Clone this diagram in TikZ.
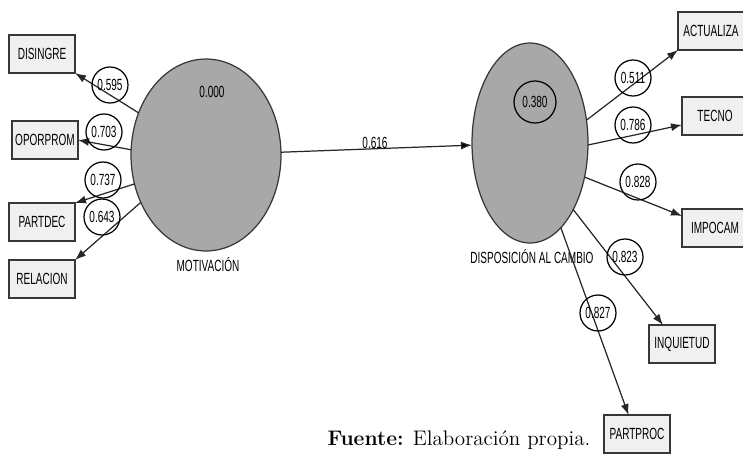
\documentclass[tikz,border=0pt]{standalone}
\usepackage{fontspec}
\usetikzlibrary{shapes.geometric,arrows.meta}
\newfontfamily\diagfont[FakeStretch=0.62]{Liberation Sans}
\definecolor{latentgray}{RGB}{168,168,168}
\definecolor{boxgray}{RGB}{240,240,240}
\definecolor{edgegray}{RGB}{55,55,55}

\begin{document}
\begin{tikzpicture}[x=0.02cm, y=-0.02cm, line width=0.7pt,
        font=\diagfont\fontsize{9.2}{11}\selectfont,
        latent/.style = {draw=edgegray, fill=latentgray, ellipse, inner sep=0pt, outer sep=0pt},
        ind/.style = {draw=edgegray, fill=boxgray, minimum width=1.32cm, minimum height=0.76cm, inner sep=0pt, outer sep=0pt},
        load/.style = {draw=black, circle, minimum size=0.72cm, inner sep=0pt},
        arr/.style = {-{Latex[length=2.2mm,width=1.6mm]}, draw=black!85}]
    \useasboundingbox (0,0) rectangle (743,453);

        % latent variables
        \node[latent, minimum width=3cm, minimum height=3.84cm] (mot) at (206,155) {};
        \node[latent, minimum width=2.32cm, minimum height=4cm] (disp) at (530,143) {};
        \node (r2mot) at (212,92) {0.000};
        \node[load, minimum size=0.84cm] (r2disp) at (535,102) {0.380};
        \node (motlab) at (208,265) {MOTIVACIÓN};
        \node (displab) at (532,257) {DISPOSICIÓN AL CAMBIO};

        % indicators
        \node[ind] (disingre) at (42,54) {DISINGRE};
        \node[ind] (oporprom) at (45,140) {OPORPROM};
        \node[ind] (partdec) at (42,222) {PARTDEC};
        \node[ind] (relacion) at (42,279) {RELACION};
        \node[ind] (actualiza) at (711,31) {ACTUALIZA};
        \node[ind] (tecno) at (715,116) {TECNO};
        \node[ind] (impocam) at (715,228) {IMPOCAM};
        \node[ind] (inquietud) at (682,344) {INQUIETUD};
        \node[ind] (partproc) at (637,434) {PARTPROC};

        % paths
        \path[arr] (mot) edge (disp);
        \node (path) at (375,143) {0.616};

        \draw[arr] (mot.148) -- (disingre.south east);
        \draw[arr] (mot.176) -- (oporprom.east);
        \draw[arr] (mot.202) -- (partdec.north east);
        \draw[arr] (mot.216) -- (relacion.north east);
        \draw[arr] (disp.22) -- (actualiza.south west);
        \draw[arr] (disp.358) -- (tecno.195);
        \draw[arr] (disp.328) -- (impocam.160);
        \draw[arr] (disp.303) -- (inquietud.135);
        \draw[arr] (disp.290) -- (partproc.114);

        % loadings
        \node[load] (l1) at (110,85) {0.595};
        \node[load] (l2) at (104,132) {0.703};
        \node[load] (l3) at (103,180) {0.737};
        \node[load] (l4) at (102,217) {0.643};
        \node[load] (l5) at (633,78) {0.511};
        \node[load] (l6) at (633,125) {0.786};
        \node[load] (l7) at (638,182) {0.828};
        \node[load] (l8) at (625,257) {0.823};
        \node[load] (l9) at (598,313) {0.827};

        \node[font=\rmfamily\fontsize{12}{14}\selectfont] (fuente) at (459,440) {\textbf{Fuente:} Elaboración propia.};
    \end{tikzpicture}
\end{document}
